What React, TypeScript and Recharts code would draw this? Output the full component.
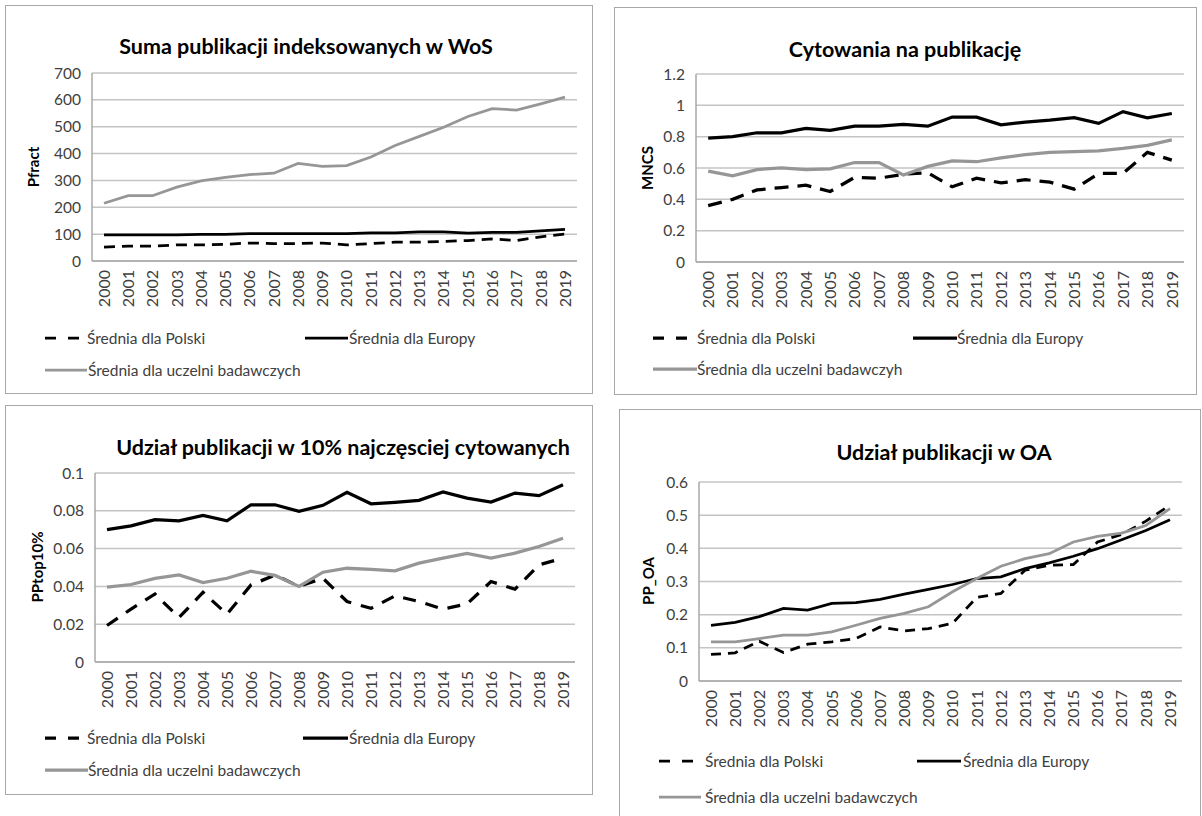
import React from 'react';
import { LineChart, Line, XAxis, YAxis, CartesianGrid } from 'recharts';

const years = ['2000', '2001', '2002', '2003', '2004', '2005', '2006', '2007', '2008', '2009', '2010', '2011', '2012', '2013', '2014', '2015', '2016', '2017', '2018', '2019'];

const seriesNames = ['Średnia dla Polski', 'Średnia dla Europy', 'Średnia dla uczelni badawczych'];
const seriesNamesP2 = ['Średnia dla Polski', 'Średnia dla Europy', 'Średnia dla uczelni badawczyh'];

// Panel 1: Pfract
const wosPoland = [52, 55, 55, 60, 60, 62, 67, 65, 65, 67, 60, 65, 70, 70, 73, 76, 82, 76, 90, 100];
const wosEurope = [97, 97, 97, 97, 99, 99, 102, 102, 102, 102, 102, 105, 105, 108, 108, 104, 107, 107, 112, 118];
const wosUniv = [215, 243, 243, 275, 298, 311, 322, 327, 363, 352, 355, 387, 430, 464, 498, 538, 567, 562, 585, 610];
const wosTicks = [0, 100, 200, 300, 400, 500, 600, 700];

// Panel 2: MNCS
const mncsPoland = [0.36, 0.4, 0.46, 0.475, 0.49, 0.45, 0.54, 0.535, 0.56, 0.57, 0.48, 0.535, 0.505, 0.525, 0.51, 0.465, 0.565, 0.565, 0.7, 0.65];
const mncsEurope = [0.79, 0.8, 0.825, 0.825, 0.853, 0.84, 0.867, 0.867, 0.878, 0.867, 0.925, 0.925, 0.876, 0.893, 0.905, 0.922, 0.885, 0.96, 0.92, 0.948];
const mncsUniv = [0.58, 0.55, 0.59, 0.6, 0.59, 0.595, 0.635, 0.635, 0.555, 0.61, 0.645, 0.64, 0.665, 0.685, 0.7, 0.705, 0.71, 0.725, 0.745, 0.78];
const mncsTicks = [0, 0.2, 0.4, 0.6, 0.8, 1, 1.2];

// Panel 3: PPtop10%
const topPoland = [0.0193, 0.028, 0.036, 0.0235, 0.0369, 0.0253, 0.0408, 0.046, 0.04, 0.0443, 0.032, 0.0284, 0.035, 0.032, 0.028, 0.0307, 0.0426, 0.0385, 0.0514, 0.055];
const topEurope = [0.07, 0.072, 0.0753, 0.0747, 0.0776, 0.0747, 0.0832, 0.0832, 0.0797, 0.0829, 0.0898, 0.0837, 0.0845, 0.0855, 0.09, 0.0867, 0.0846, 0.0894, 0.088, 0.0938];
const topUniv = [0.0396, 0.041, 0.0442, 0.0461, 0.042, 0.0443, 0.048, 0.0458, 0.04, 0.0475, 0.0496, 0.049, 0.0482, 0.0523, 0.055, 0.0574, 0.055, 0.0576, 0.0611, 0.0655];
const topTicks = [0, 0.02, 0.04, 0.06, 0.08, 0.1];

// Panel 4: PP_OA
const oaPoland = [0.08, 0.085, 0.12, 0.086, 0.111, 0.118, 0.128, 0.163, 0.151, 0.158, 0.174, 0.252, 0.264, 0.334, 0.349, 0.351, 0.419, 0.442, 0.482, 0.53];
const oaEurope = [0.168, 0.177, 0.194, 0.219, 0.214, 0.234, 0.236, 0.246, 0.262, 0.276, 0.291, 0.309, 0.314, 0.339, 0.356, 0.376, 0.399, 0.426, 0.454, 0.486];
const oaUniv = [0.118, 0.118, 0.128, 0.138, 0.138, 0.148, 0.168, 0.189, 0.204, 0.224, 0.269, 0.309, 0.346, 0.369, 0.384, 0.419, 0.436, 0.446, 0.469, 0.52];
const oaTicks = [0, 0.1, 0.2, 0.3, 0.4, 0.5, 0.6];

const FONT = 'Lato, "Open Sans", sans-serif';
const TEXT = '#404040';
const GRAY = '#969696';
const GRID = '#c4c4c4';
const BORDER = '#a8a8a8';

type Rect = { left: number; top: number; width: number; height: number };
type LegendCfg = {
  row1: number; row2: number;
  pl: [number, number]; plText: number;
  eu: [number, number]; euText: number;
  un: [number, number]; unText: number;
};
type PanelCfg = {
  box: Rect;
  chart: Rect;
  margin: { top: number; right: number; bottom: number; left: number };
  yWidth: number;
  pad: number;
  domain: [number, number];
  ticks: number[];
  title: string; titleX: number; titleY: number;
  yTitle: string; yTitleX: number; yTitleY: number;
  legend: LegendCfg;
  names: string[];
  dash: string;
  sw: number;
  poland: number[]; europe: number[]; univ: number[];
};

const YearTick = (props: any) => {
  const { x, y, payload } = props;
  return (
    <g transform={`translate(${x},${y})`}>
      <text transform="rotate(-90)" textAnchor="end" dy="0.36em" fontSize={16} fill={TEXT} fontFamily={FONT}>
        {payload.value}
      </text>
    </g>
  );
};

function Panel({ cfg }: { cfg: PanelCfg }) {
  const data = years.map((yr, i) => ({ year: yr, pl: cfg.poland[i], eu: cfg.europe[i], un: cfg.univ[i] }));
  const lg = cfg.legend;
  const sample = (x0: number, x1: number, y: number, color: string, dash?: string) => (
    <svg style={{ position: 'absolute', left: x0, top: y - 5, overflow: 'visible' }} width={x1 - x0} height={10}>
      <line x1={0} y1={5} x2={x1 - x0} y2={5} stroke={color} strokeWidth={cfg.sw} strokeDasharray={dash} />
    </svg>
  );
  const label = (x: number, y: number, txt: string) => (
    <div style={{ position: 'absolute', left: x, top: y - 10, height: 20, lineHeight: '20px', fontSize: 15.5, color: TEXT, fontFamily: FONT, whiteSpace: 'nowrap' }}>{txt}</div>
  );
  return (
    <>
      <div style={{ position: 'absolute', left: cfg.box.left, top: cfg.box.top, width: cfg.box.width, height: cfg.box.height, border: `1.5px solid ${BORDER}`, boxSizing: 'border-box', background: '#fff' }} />
      <div style={{ position: 'absolute', left: cfg.chart.left, top: cfg.chart.top }}>
        <LineChart width={cfg.chart.width} height={cfg.chart.height} data={data} margin={cfg.margin}>
          <CartesianGrid vertical={false} stroke={GRID} strokeWidth={1.5} />
          <XAxis
            dataKey="year"
            interval={0}
            padding={{ left: cfg.pad, right: cfg.pad }}
            tick={<YearTick />}
            tickLine={false}
            tickSize={0}
            tickMargin={9}
            height={50}
            axisLine={{ stroke: BORDER, strokeWidth: 1.5 }}
          />
          <YAxis
            domain={cfg.domain}
            ticks={cfg.ticks}
            interval={0}
            width={cfg.yWidth}
            tickLine={false}
            tickSize={0}
            tickMargin={11}
            tick={{ fontSize: 15.5, fill: TEXT, fontFamily: FONT }}
            axisLine={{ stroke: BORDER, strokeWidth: 1.5 }}
          />
          <Line type="linear" dataKey="pl" stroke="#000" strokeWidth={cfg.sw} strokeDasharray={cfg.dash} dot={false} isAnimationActive={false} />
          <Line type="linear" dataKey="eu" stroke="#000" strokeWidth={cfg.sw} dot={false} isAnimationActive={false} />
          <Line type="linear" dataKey="un" stroke={GRAY} strokeWidth={cfg.sw} dot={false} isAnimationActive={false} />
        </LineChart>
      </div>
      <div style={{ position: 'absolute', left: cfg.titleX, top: cfg.titleY, transform: 'translate(-50%,-50%)', fontSize: 21.5, fontWeight: 700, fontFamily: FONT, color: '#000', whiteSpace: 'nowrap' }}>{cfg.title}</div>
      <div style={{ position: 'absolute', left: cfg.yTitleX, top: cfg.yTitleY, transform: 'translate(-50%,-50%) rotate(-90deg)', fontSize: 15, fontWeight: 700, fontFamily: FONT, color: '#000', whiteSpace: 'nowrap' }}>{cfg.yTitle}</div>
      {sample(lg.pl[0], lg.pl[1], lg.row1, '#000', '11 12')}
      {label(lg.plText, lg.row1, cfg.names[0])}
      {sample(lg.eu[0], lg.eu[1], lg.row1, '#000')}
      {label(lg.euText, lg.row1, cfg.names[1])}
      {sample(lg.un[0], lg.un[1], lg.row2, GRAY)}
      {label(lg.unText, lg.row2, cfg.names[2])}
    </>
  );
}

const panels: PanelCfg[] = [
  {
    box: { left: 5, top: 5, width: 588, height: 389 },
    chart: { left: 5, top: 6, width: 588, height: 387 },
    margin: { top: 67, right: 16, bottom: 82, left: 27 },
    yWidth: 60,
    pad: 12,
    domain: [0, 700],
    ticks: wosTicks,
    title: 'Suma publikacji indeksowanych w WoS', titleX: 306, titleY: 46,
    yTitle: 'Pfract', yTitleX: 33, yTitleY: 167,
    legend: { row1: 338, row2: 370, pl: [45, 80], plText: 87, eu: [305, 348], euText: 349, un: [45, 87], unText: 88 },
    names: seriesNames,
    dash: '11 7',
    sw: 2.75,
    poland: wosPoland, europe: wosEurope, univ: wosUniv,
  },
  {
    box: { left: 614, top: 7, width: 583, height: 388 },
    chart: { left: 614, top: 7, width: 583, height: 388 },
    margin: { top: 67, right: 13, bottom: 83, left: 27 },
    yWidth: 55,
    pad: 12.2,
    domain: [0, 1.2],
    ticks: mncsTicks,
    title: 'Cytowania na publikację', titleX: 905, titleY: 49,
    yTitle: 'MNCS', yTitleX: 647, yTitleY: 168,
    legend: { row1: 338, row2: 369, pl: [653, 695], plText: 697, eu: [913, 957], euText: 957, un: [653, 697], unText: 697 },
    names: seriesNamesP2,
    dash: '14 9',
    sw: 3.25,
    poland: mncsPoland, europe: mncsEurope, univ: mncsUniv,
  },
  {
    box: { left: 5, top: 405, width: 588, height: 390 },
    chart: { left: 5, top: 405, width: 588, height: 389 },
    margin: { top: 68, right: 18, bottom: 82, left: 28 },
    yWidth: 62,
    pad: 12,
    domain: [0, 0.1],
    ticks: topTicks,
    title: 'Udział publikacji w 10% najczęsciej cytowanych', titleX: 343, titleY: 447,
    yTitle: 'PPtop10%', yTitleX: 37, yTitleY: 567,
    legend: { row1: 738, row2: 770, pl: [45, 82], plText: 87, eu: [303, 348], euText: 349, un: [45, 88], unText: 88 },
    names: seriesNames,
    dash: '13 10',
    sw: 3.25,
    poland: topPoland, europe: topEurope, univ: topUniv,
  },
  {
    box: { left: 619, top: 409, width: 582, height: 430 },
    chart: { left: 619, top: 409, width: 581, height: 407 },
    margin: { top: 73, right: 18, bottom: 85, left: 25 },
    yWidth: 55,
    pad: 12,
    domain: [0, 0.6],
    ticks: oaTicks,
    title: 'Udział publikacji w OA', titleX: 944, titleY: 452,
    yTitle: 'PP_OA', yTitleX: 648, yTitleY: 581,
    legend: { row1: 761, row2: 797, pl: [659, 697], plText: 705, eu: [917, 961], euText: 963, un: [659, 701], unText: 705 },
    names: seriesNames,
    dash: '10 7',
    sw: 2.75,
    poland: oaPoland, europe: oaEurope, univ: oaUniv,
  },
];

export default function App() {
  return (
    <div style={{ position: 'relative', width: 1202, height: 816, overflow: 'hidden', background: '#fff', fontFamily: FONT }}>
      <style>{'body{margin:0;}'}</style>
      {panels.map((p, i) => (
        <Panel key={i} cfg={p} />
      ))}
    </div>
  );
}
